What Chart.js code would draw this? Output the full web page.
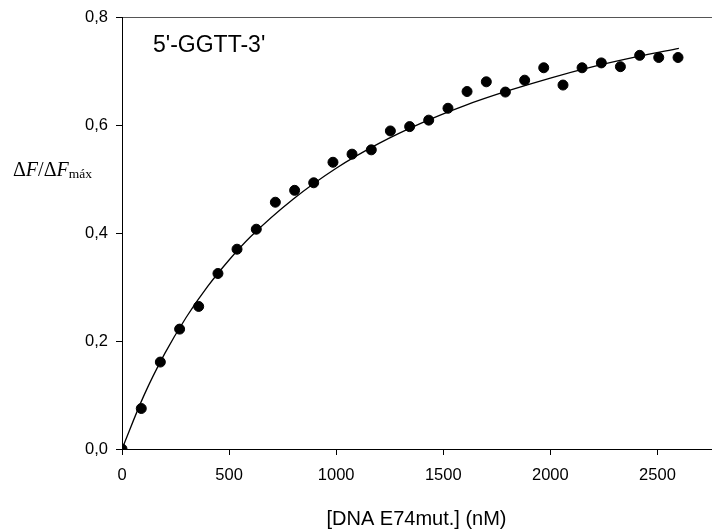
<!DOCTYPE html>
<html>
<head>
<meta charset="utf-8">
<script src="https://cdn.jsdelivr.net/npm/chart.js@4/dist/chart.umd.min.js"></script>
<style>
  html, body { margin: 0; padding: 0; background: #fff; overflow: hidden; }
  #wrap { width: 713px; height: 531px; position: relative; overflow: hidden; }
</style>
</head>
<body>
<div id="wrap"><canvas id="c" width="717" height="531"></canvas></div>
<script>
// Measured concentrations (nM)
const concentrations = [0, 90, 179, 269, 358, 448, 537, 627, 716, 806, 895, 985, 1074, 1164, 1253, 1343, 1432, 1522, 1611, 1701, 1790, 1880, 1969, 2059, 2148, 2238, 2327, 2417, 2506, 2596];
// Measured ΔF/ΔFmáx
const responses = [0.000, 0.075, 0.161, 0.222, 0.264, 0.325, 0.370, 0.407, 0.457, 0.479, 0.493, 0.531, 0.546, 0.554, 0.589, 0.597, 0.609, 0.631, 0.662, 0.680, 0.661, 0.683, 0.706, 0.674, 0.706, 0.715, 0.708, 0.729, 0.725, 0.725];
// Fitted curve
const fitX = [0, 100, 200, 300, 400, 500, 600, 800, 1000, 1200, 1400, 1600, 1800, 2000, 2200, 2400, 2600];
const fitY = [0.000, 0.097, 0.177, 0.244, 0.301, 0.350, 0.393, 0.463, 0.520, 0.566, 0.604, 0.636, 0.663, 0.687, 0.708, 0.726, 0.742];
// Axis ticks
const xTicks = [0, 500, 1000, 1500, 2000, 2500];
const yTicks = [0.0, 0.2, 0.4, 0.6, 0.8];
const xTitle = '[DNA E74mut.] (nM)';
const annotation = "5'-GGTT-3'";

const SANS = '"Liberation Sans", Arial, sans-serif';
const SERIF = '"Liberation Serif", "Times New Roman", serif';
const zeroPad = s => { s.paddingLeft = 0; s.paddingRight = 0; s.paddingTop = 0; s.paddingBottom = 0; };

const overlay = {
  id: 'overlay',
  afterDraw(chart) {
    const ctx = chart.ctx;
    ctx.save();
    ctx.fillStyle = '#000';
    ctx.textBaseline = 'alphabetic';
    ctx.textAlign = 'left';
    // annotation
    ctx.font = '23px ' + SANS;
    ctx.fillText(annotation, 153, 52);
    // y title ΔF/ΔFmáx
    let x = 13;
    const y = 176;
    const parts = [
      ['Δ', '20px ' + SERIF, 0],
      ['F', 'italic 20px ' + SERIF, 0],
      ['/', '20px ' + SERIF, 0],
      ['Δ', '20px ' + SERIF, 0],
      ['F', 'italic 20px ' + SERIF, 0],
      ['máx', '13.5px ' + SERIF, 2]
    ];
    for (const [t, f, dy] of parts) {
      ctx.font = f;
      ctx.fillText(t, x, y + dy);
      x += ctx.measureText(t).width;
    }
    ctx.restore();
  }
};

new Chart(document.getElementById('c'), {
  data: {
    datasets: [
      {
        type: 'scatter',
        data: concentrations.map((c, i) => ({ x: c, y: responses[i] })),
        backgroundColor: '#000',
        borderColor: '#000',
        pointRadius: 5,
        pointHoverRadius: 5,
        order: 0
      },
      {
        type: 'line',
        data: fitX.map((c, i) => ({ x: c, y: fitY[i] })),
        borderColor: '#000',
        borderWidth: 1.3,
        pointRadius: 0,
        fill: false,
        cubicInterpolationMode: 'monotone',
        order: 1
      }
    ]
  },
  options: {
    responsive: false,
    animation: false,
    devicePixelRatio: 1,
    layout: { padding: { top: 17, right: 1, left: 0, bottom: 0 } },
    plugins: { legend: { display: false }, tooltip: { enabled: false } },
    scales: {
      x: {
        type: 'linear',
        position: 'bottom',
        min: 0,
        max: 2750,
        afterBuildTicks: s => { s.ticks = xTicks.map(v => ({ value: v })); },
        afterFit: s => { s.height = 82; zeroPad(s); },
        ticks: { color: '#000', font: { family: SANS, size: 16.5 }, padding: 11, maxRotation: 0, callback: v => String(v) },
        grid: { display: true, drawOnChartArea: false, drawTicks: true, tickLength: 6, color: '#000', tickColor: '#000' },
        border: { display: true, color: '#000', width: 1 },
        title: { display: true, text: xTitle, color: '#000', font: { family: SANS, size: 20 }, padding: { top: 0, bottom: 0 } }
      },
      x2: {
        type: 'linear',
        position: 'top',
        min: 0,
        max: 2750,
        afterFit: s => { s.height = 0; zeroPad(s); },
        ticks: { display: false },
        grid: { display: false, drawTicks: false },
        border: { display: true, color: '#555', width: 1 }
      },
      y: {
        type: 'linear',
        position: 'left',
        min: 0,
        max: 0.8,
        afterBuildTicks: s => { s.ticks = yTicks.map(v => ({ value: v })); },
        afterFit: s => { s.width = 122; zeroPad(s); },
        ticks: { color: '#000', font: { family: SANS, size: 16.5 }, padding: 8, callback: v => Number(v).toFixed(1).replace('.', ',') },
        grid: { display: true, drawOnChartArea: false, drawTicks: true, tickLength: 6, color: '#000', tickColor: '#000' },
        border: { display: true, color: '#000', width: 1 }
      }
    }
  },
  plugins: [overlay]
});
</script>
</body>
</html>
